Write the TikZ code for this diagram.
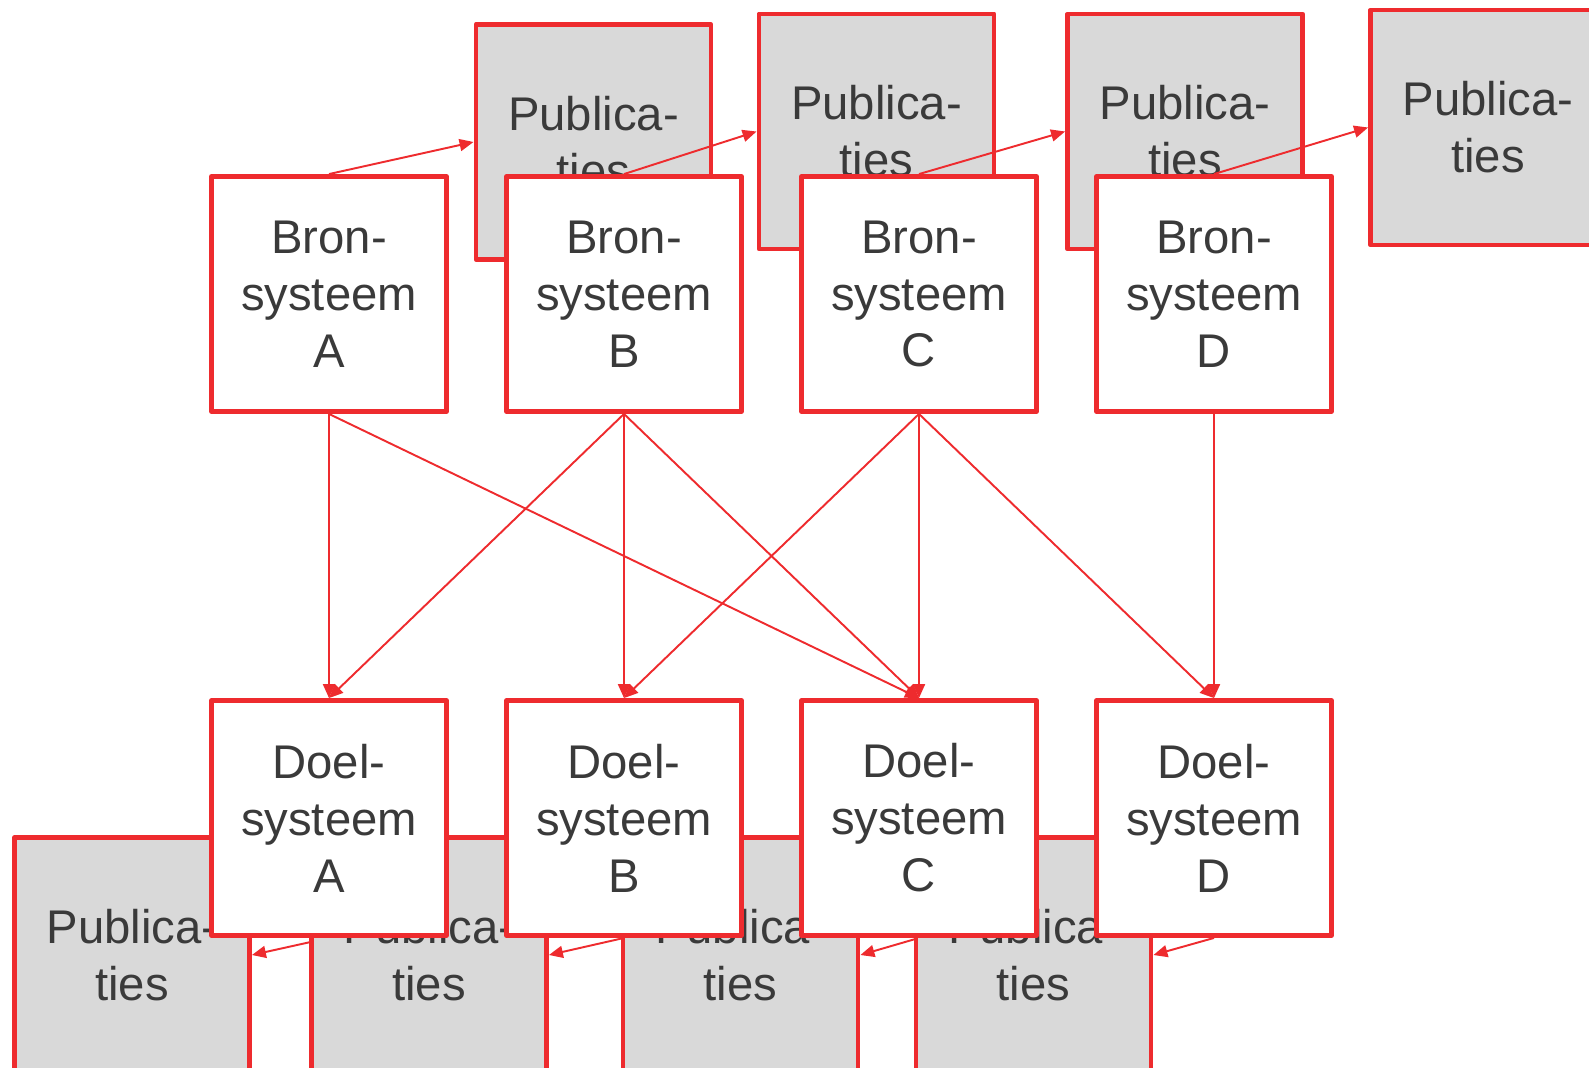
\documentclass[tikz,border=0pt]{standalone}
\usepackage{fontspec}
\setmainfont{Liberation Sans}
\usetikzlibrary{arrows.meta,backgrounds}
\definecolor{rood}{RGB}{238,43,46}
\definecolor{grijs}{RGB}{217,217,217}
\definecolor{tekst}{RGB}{58,58,58}

\begin{document}
\begin{tikzpicture}[x=0.02cm,y=-0.02cm,
	sysbox/.style={draw=rood, line width=2.8pt, line join=round, fill=white,
		minimum width=4.7cm, minimum height=4.7cm, inner sep=0pt,
		text width=4.5cm, align=center, text=tekst,
		font=\fontsize{26.9}{32.4}\selectfont},
	pubbox/.style={sysbox, fill=grijs},
	link/.style={draw=rood, line width=1.1pt, -{Triangle[length=0.28cm,width=0.24cm]}}]

	\useasboundingbox (0,0) rectangle (1589,1068);

	% publicaties boven
	\foreach \n / \x / \y in {1/593.5/142,2/876.5/131.5,3/1185/131.5,4/1488/127.5}{
	\node[pubbox] (pt\n) at (\x,\y) {Publica-\\ties};}

	% bronsystemen
	\foreach \l / \x in {A/329,B/624,C/919,D/1214}{
	\node[sysbox] (bron\l) at (\x,294) {Bron-\\systeem\\\l};}

	\foreach \l / \n in {A/1,B/2,C/3,D/4}{
	\draw[link] (bron\l.north) -- (pt\n.west);}

	% publicaties onder
	\foreach \l / \x in {A/132,B/429,C/740.5,D/1033.5}{
	\node[pubbox] (pb\l) at (\x,955) {Publica-\\ties};}

	% doelsystemen
	\foreach \l / \x in {A/329,B/624,C/919,D/1214}{
	\node[sysbox] (doel\l) at (\x,818) {Doel-\\systeem\\\l};}

	\foreach \s / \t in {A/A,A/C,B/A,B/B,B/C,C/B,C/C,C/D,D/D}{
	\draw[link] (bron\s.south) -- (doel\t.north);}

	\begin{scope}[on background layer]
	\foreach \l in {A,B,C,D}{
	\draw[link] (doel\l.south) -- (pb\l.east);}
	\end{scope}

\end{tikzpicture}
\end{document}
